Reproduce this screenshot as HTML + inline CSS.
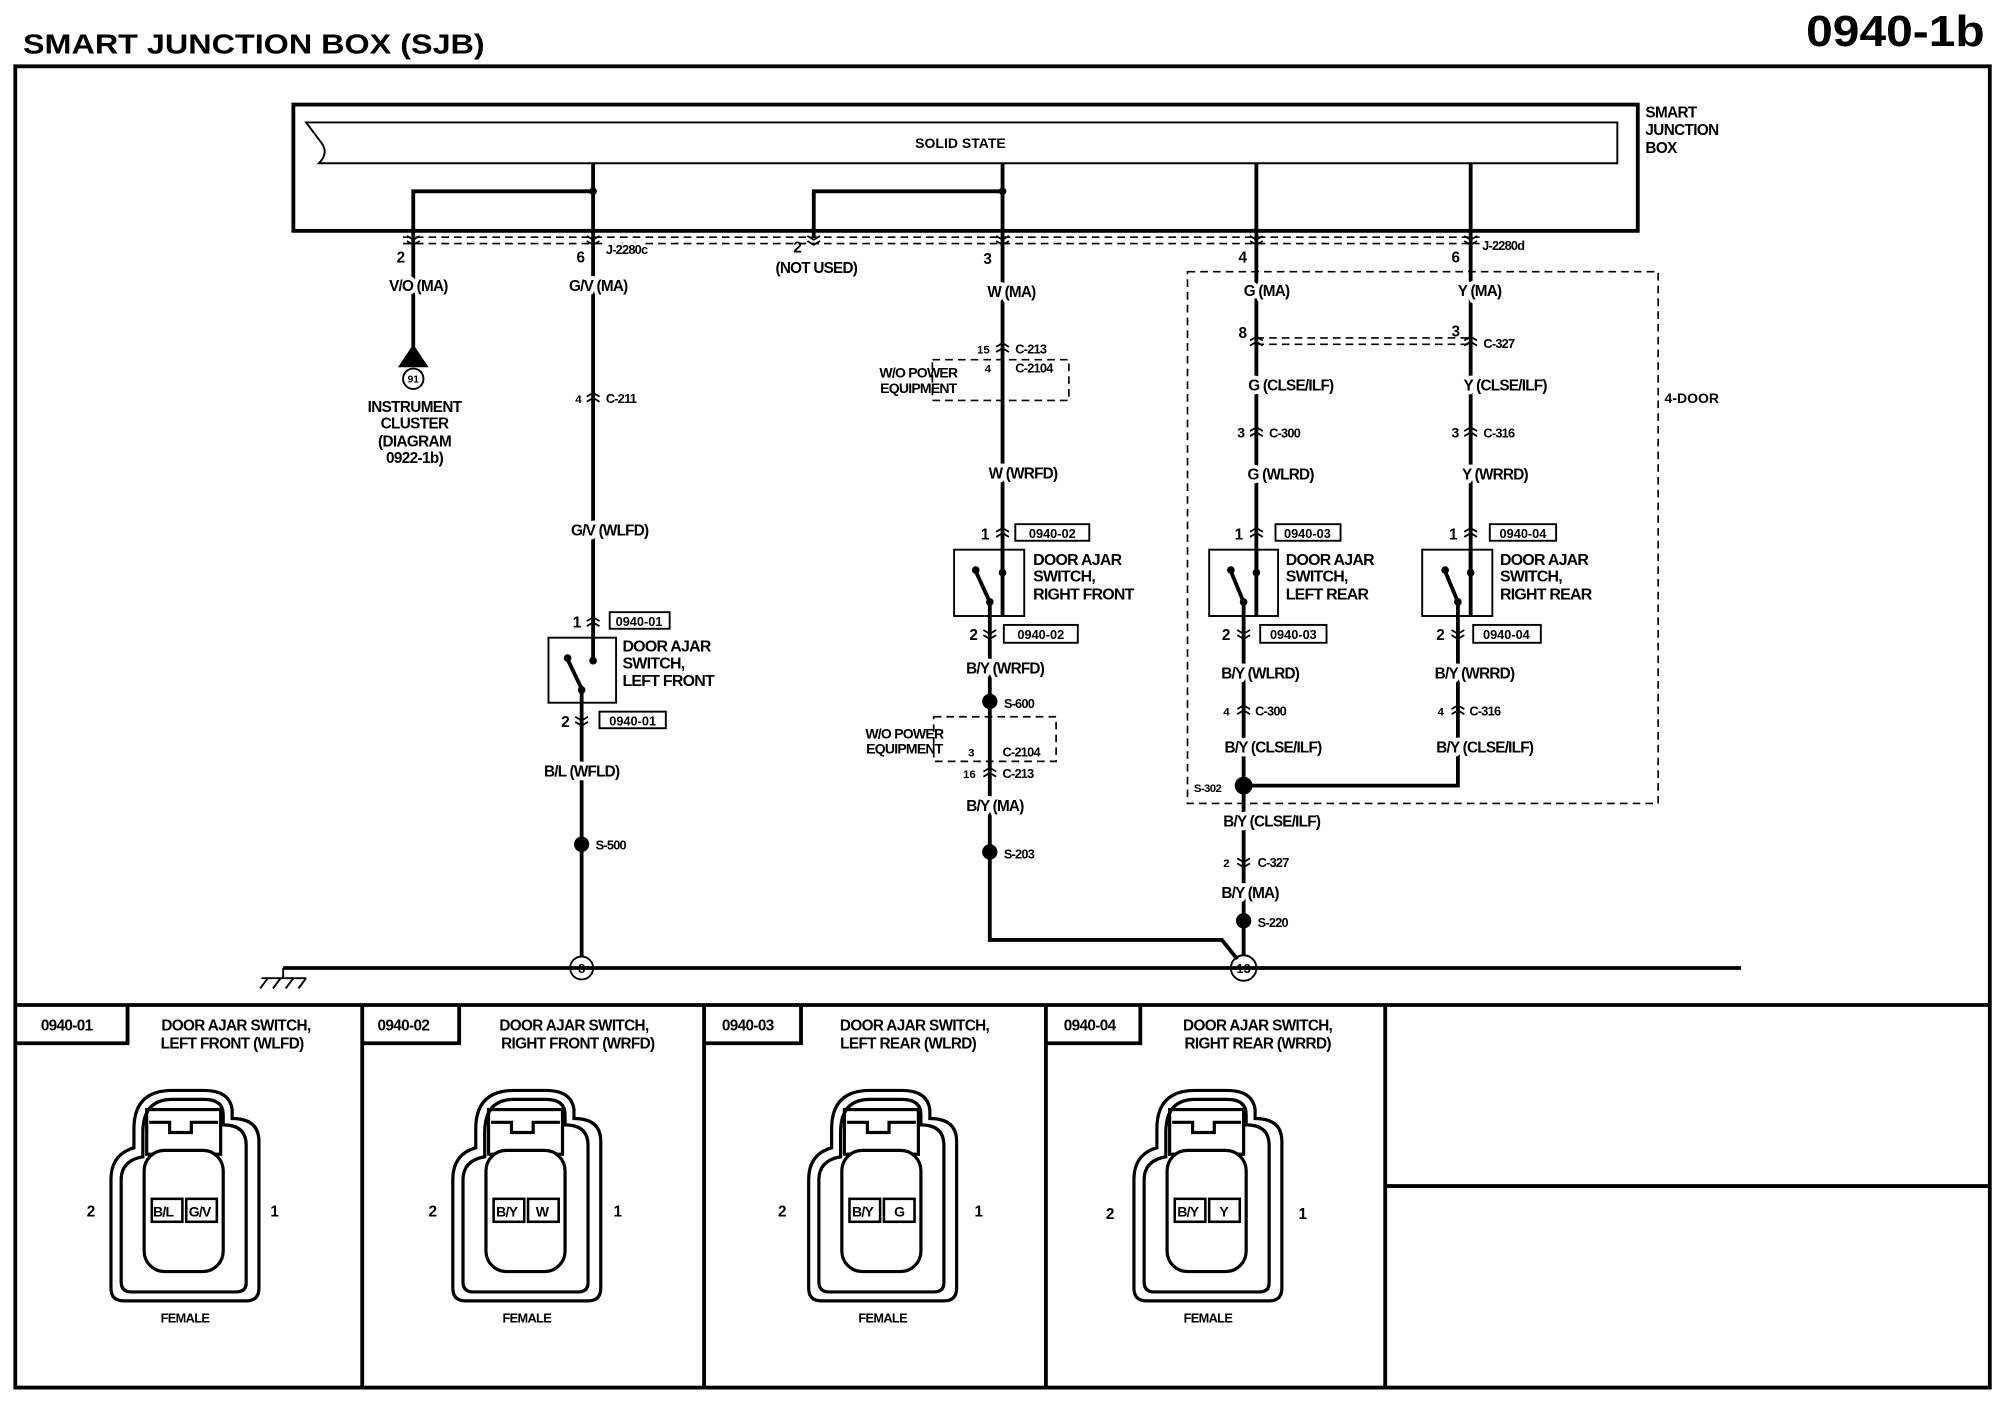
<!DOCTYPE html>
<html><head><meta charset="utf-8"><style>
html,body{margin:0;padding:0;background:#fff}
svg{display:block}
text{font-family:"Liberation Sans",Arial,sans-serif;font-weight:bold;fill:#000}
.l{font-size:12px;letter-spacing:-0.6px;stroke:#fff;stroke-width:6px;paint-order:stroke;stroke-linejoin:round}
.s{font-size:10px;letter-spacing:-0.6px;stroke:#fff;stroke-width:4px;paint-order:stroke}
.w{stroke:#000;stroke-width:3;fill:none}
.t{stroke:#000;stroke-width:1.5;fill:none}
.d{stroke:#000;stroke-width:1.3;fill:none;stroke-dasharray:6,4}
</style></head><body>
<svg width="2000" height="1408" viewBox="0 0 1568 1104" preserveAspectRatio="none" xmlns="http://www.w3.org/2000/svg">
<defs>
<path id="cu" d="M-5,-1 L0,-4 L5,-1 M-5,3 L0,0 L5,3" stroke="#000" stroke-width="1.4" fill="none"/>
<path id="cd" d="M-5,-3 L0,0 L5,-3 M-5,1 L0,4 L5,1" stroke="#000" stroke-width="1.4" fill="none"/>
<g id="conn" fill="none" stroke="#000">
<path d="M-40,-95 Q-40,-125 -10,-125 L15,-125 Q35,-125 37,-110 L37,-103 Q58,-103 58,-85 L58,30 Q58,40 48,40 L-48,40 Q-58,40 -58,30 L-58,-55 Q-58,-75 -40,-80 Z" stroke-width="2.5"/>
<path d="M-33,-92 Q-33,-118 -10,-118 L15,-118 Q30,-118 30,-106 L30,-98 Q48,-98 48,-82 L48,26 Q48,33 40,33 L-42,33 Q-50,33 -50,25 L-50,-55 Q-50,-70 -33,-73 Z" stroke-width="2.5"/>
<rect x="-30" y="-110" width="58" height="35" stroke-width="2.5"/>
<path d="M-28,-100 L-12,-100 L-12,-92 L5,-92 L5,-100 L26,-100" stroke-width="2.5"/>
<rect x="-32" y="-78" width="62" height="95" rx="16" stroke-width="2.5" fill="#fff"/>
<rect x="-26" y="-40" width="24" height="18" stroke-width="2"/>
<rect x="1" y="-40" width="24" height="18" stroke-width="2"/>
</g>
</defs>

<text x="18" y="42" style="font-size:22px" textLength="362" lengthAdjust="spacingAndGlyphs">SMART JUNCTION BOX (SJB)</text>
<text x="1416" y="36" style="font-size:34px" textLength="140" lengthAdjust="spacingAndGlyphs">0940-1b</text>
<rect x="12" y="52" width="1548" height="1036" class="w" stroke-width="2.5"/>
<line x1="12" y1="788" x2="1560" y2="788" class="w" stroke-width="2"/>
<g class="w" stroke-width="2">
<line x1="284" y1="788" x2="284" y2="1088"/><line x1="552" y1="788" x2="552" y2="1088"/>
<line x1="820" y1="788" x2="820" y2="1088"/><line x1="1086" y1="788" x2="1086" y2="1088"/>
<line x1="1086" y1="930" x2="1560" y2="930"/>
<path d="M12,818 L100,818 L100,788 M284,818 L360,818 L360,788 M552,818 L628,818 L628,788 M820,818 L894,818 L894,788"/>
</g>
<g style="font-size:12px;letter-spacing:-0.5px">
<text x="32" y="808">0940-01</text><text x="296" y="808">0940-02</text><text x="566" y="808">0940-03</text><text x="834" y="808">0940-04</text>
<text x="185" y="808" text-anchor="middle">DOOR AJAR SWITCH,</text><text x="182" y="822" text-anchor="middle">LEFT FRONT (WLFD)</text>
<text x="450" y="808" text-anchor="middle">DOOR AJAR SWITCH,</text><text x="453" y="822" text-anchor="middle">RIGHT FRONT (WRFD)</text>
<text x="717" y="808" text-anchor="middle">DOOR AJAR SWITCH,</text><text x="712" y="822" text-anchor="middle">LEFT REAR (WLRD)</text>
<text x="986" y="808" text-anchor="middle">DOOR AJAR SWITCH,</text><text x="986" y="822" text-anchor="middle">RIGHT REAR (WRRD)</text>
</g>
<use href="#conn" x="145" y="980"/><use href="#conn" x="413" y="980"/><use href="#conn" x="692" y="980"/><use href="#conn" x="947" y="980"/>
<g style="font-size:11px;letter-spacing:-0.6px">
<text x="120" y="954">B/L</text><text x="148" y="954">G/V</text>
<text x="389" y="954">B/Y</text><text x="420" y="954">W</text>
<text x="668" y="954">B/Y</text><text x="701" y="954">G</text>
<text x="923" y="954">B/Y</text><text x="956" y="954">Y</text>
</g>
<g style="font-size:12px">
<text x="68" y="954">2</text><text x="212" y="954">1</text><text x="336" y="954">2</text><text x="481" y="954">1</text>
<text x="610" y="954">2</text><text x="764" y="954">1</text><text x="867" y="956">2</text><text x="1018" y="956">1</text>
</g>
<g style="font-size:10px;letter-spacing:-0.5px" text-anchor="middle">
<text x="145" y="1037">FEMALE</text><text x="413" y="1037">FEMALE</text><text x="692" y="1037">FEMALE</text><text x="947" y="1037">FEMALE</text>
</g>

<!-- SJB -->
<rect x="230" y="82" width="1054" height="99" class="w" stroke-width="2"/>
<path d="M240,96 L1268,96 L1268,128 L250,128 Q258,120 252,112 Q246,104 240,96 Z" class="t"/>
<text x="753" y="116" text-anchor="middle" style="font-size:11px">SOLID STATE</text>
<g style="font-size:12px;letter-spacing:-0.5px"><text x="1290" y="92">SMART</text><text x="1290" y="106">JUNCTION</text><text x="1290" y="120">BOX</text></g>
<g class="w">
<path d="M465,128 L465,500"/><path d="M465,150 L324,150 L324,272"/>
<path d="M786,128 L786,483"/><path d="M786,150 L638,150 L638,186"/>
<path d="M985,128 L985,483"/><path d="M1153,128 L1153,483"/>
</g>
<path d="M316,186 L1160,186 M316,191 L1160,191 M985,265 L1153,265 M985,270 L1153,270" class="d" stroke-width="1.5"/>
<g fill="#000"><circle cx="465" cy="150" r="3"/><circle cx="786" cy="150" r="3"/></g>
<use href="#cd" x="324" y="188"/><use href="#cd" x="465" y="188"/><use href="#cd" x="638" y="188"/><use href="#cd" x="786" y="188"/><use href="#cd" x="985" y="188"/><use href="#cd" x="1153" y="188"/>
<g style="font-size:12px">
<text x="311" y="206">2</text><text x="452" y="206">6</text><text x="622" y="198">2</text><text x="771" y="207">3</text><text x="971" y="206">4</text><text x="1138" y="206">6</text>
</g>
<text x="475" y="199" class="s">J-2280c</text><text x="1162" y="196" class="s">J-2280d</text>
<text x="328" y="228" class="l" text-anchor="middle">V/O (MA)</text>
<text x="469" y="228" class="l" text-anchor="middle">G/V (MA)</text>
<text x="640" y="214" class="l" text-anchor="middle">(NOT USED)</text>
<text x="793" y="233" class="l" text-anchor="middle">W (MA)</text>
<text x="993" y="232" class="l" text-anchor="middle">G (MA)</text>
<text x="1160" y="232" class="l" text-anchor="middle">Y (MA)</text>

<!-- instrument cluster -->
<path d="M312,288 L324,270 L336,288 Z" fill="#000"/>
<circle cx="324" cy="297" r="8" class="t" fill="#fff"/><text x="324" y="300" text-anchor="middle" style="font-size:8px">91</text>
<g style="font-size:12px;letter-spacing:-0.5px" text-anchor="middle">
<text x="325" y="323">INSTRUMENT</text><text x="325" y="336">CLUSTER</text><text x="325" y="350">(DIAGRAM</text><text x="325" y="363">0922-1b)</text></g>

<!-- LF -->
<use href="#cu" x="465" y="312"/><text x="451" y="316" style="font-size:9px">4</text><text x="475" y="316" class="s">C-211</text>
<text x="478" y="420" class="l" text-anchor="middle">G/V (WLFD)</text>
<use href="#cu" x="465" y="488"/><text x="449" y="492" style="font-size:12px">1</text>
<rect x="478" y="480" width="47" height="13" class="t"/><text x="501" y="491" text-anchor="middle" style="font-size:10px">0940-01</text>
<rect x="430" y="500" width="53" height="51" class="t" stroke-width="2" fill="#fff"/>
<path d="M465,500 L465,517 M445,517 L456,540 L456,551" class="w" stroke-width="2.5"/>
<circle cx="465" cy="518" r="3"/><circle cx="445" cy="516" r="3"/><circle cx="456" cy="541" r="3"/>
<g style="font-size:12.5px;letter-spacing:-0.6px"><text x="488" y="511">DOOR AJAR</text><text x="488" y="524">SWITCH,</text><text x="488" y="538">LEFT FRONT</text></g>
<path d="M456,551 L456,750" class="w"/>
<use href="#cd" x="456" y="565"/><text x="440" y="570" style="font-size:12px">2</text>
<rect x="470" y="558" width="52" height="13" class="t"/><text x="496" y="569" text-anchor="middle" style="font-size:10px">0940-01</text>
<text x="456" y="609" class="l" text-anchor="middle">B/L (WFLD)</text>
<circle cx="456" cy="662" r="6"/><text x="467" y="666" class="s">S-500</text>

<!-- RF -->
<use href="#cu" x="786" y="273"/><text x="766" y="277" style="font-size:9px">15</text><text x="796" y="277" class="s">C-213</text>
<rect x="731" y="282" width="107" height="32" class="d" fill="none"/>
<text x="772" y="292" style="font-size:9px">4</text><text x="796" y="292" class="s">C-2104</text>
<g style="font-size:11px;letter-spacing:-0.6px" text-anchor="middle"><text x="720" y="296">W/O POWER</text><text x="720" y="308">EQUIPMENT</text></g>
<text x="802" y="375" class="l" text-anchor="middle">W (WRFD)</text>
<use href="#cu" x="786" y="418"/><text x="769" y="423" style="font-size:12px">1</text>
<rect x="796" y="411" width="58" height="13" class="t"/><text x="825" y="422" text-anchor="middle" style="font-size:10px">0940-02</text>
<rect x="748" y="431" width="55" height="52" class="t" stroke-width="2" fill="#fff"/>
<path d="M786,431 L786,448 M765,448 L776,472 L776,483" class="w" stroke-width="2.5"/>
<circle cx="786" cy="449" r="3"/><circle cx="765" cy="447" r="3"/><circle cx="776" cy="472" r="3"/>
<g style="font-size:12.5px;letter-spacing:-0.6px"><text x="810" y="443">DOOR AJAR</text><text x="810" y="456">SWITCH,</text><text x="810" y="470">RIGHT FRONT</text></g>
<path d="M776,483 L776,737 L958,737 L970,752" class="w"/>
<use href="#cd" x="776" y="497"/><text x="760" y="502" style="font-size:12px">2</text>
<rect x="787" y="490" width="58" height="14" class="t"/><text x="816" y="501" text-anchor="middle" style="font-size:10px">0940-02</text>
<text x="788" y="528" class="l" text-anchor="middle">B/Y (WRFD)</text>
<circle cx="776" cy="550" r="6"/><text x="787" y="555" class="s">S-600</text>
<rect x="732" y="562" width="96" height="35" class="d" fill="none"/>
<g style="font-size:11px;letter-spacing:-0.6px" text-anchor="middle"><text x="709" y="579">W/O POWER</text><text x="709" y="591">EQUIPMENT</text></g>
<text x="759" y="593" style="font-size:9px">3</text><text x="786" y="593" class="s">C-2104</text>
<use href="#cu" x="776" y="606"/><text x="755" y="610" style="font-size:9px">16</text><text x="786" y="610" class="s">C-213</text>
<text x="780" y="636" class="l" text-anchor="middle">B/Y (MA)</text>
<circle cx="776" cy="668" r="6"/><text x="787" y="673" class="s">S-203</text>

<!-- 4-door -->
<rect x="931" y="213" width="369" height="417" class="d"/>
<text x="1305" y="316" style="font-size:11px">4-DOOR</text>
<use href="#cu" x="985" y="268"/><use href="#cu" x="1153" y="268"/>
<text x="971" y="265" style="font-size:12px">8</text><text x="1138" y="264" style="font-size:12px">3</text><text x="1163" y="273" class="s">C-327</text>
<text x="1012" y="306" class="l" text-anchor="middle">G (CLSE/ILF)</text><text x="1180" y="306" class="l" text-anchor="middle">Y (CLSE/ILF)</text>
<use href="#cu" x="985" y="339"/><use href="#cu" x="1153" y="339"/>
<text x="970" y="343" style="font-size:11px">3</text><text x="995" y="343" class="s">C-300</text>
<text x="1138" y="343" style="font-size:11px">3</text><text x="1163" y="343" class="s">C-316</text>
<text x="1004" y="376" class="l" text-anchor="middle">G (WLRD)</text><text x="1172" y="376" class="l" text-anchor="middle">Y (WRRD)</text>
<use href="#cu" x="985" y="418"/><text x="968" y="423" style="font-size:12px">1</text>
<rect x="1000" y="411" width="51" height="13" class="t"/><text x="1025" y="422" text-anchor="middle" style="font-size:10px">0940-03</text>
<use href="#cu" x="1153" y="418"/><text x="1136" y="423" style="font-size:12px">1</text>
<rect x="1168" y="411" width="52" height="13" class="t"/><text x="1194" y="422" text-anchor="middle" style="font-size:10px">0940-04</text>
<rect x="948" y="431" width="54" height="52" class="t" stroke-width="2" fill="#fff"/>
<path d="M985,431 L985,448 M965,448 L975,472 L975,483" class="w" stroke-width="2.5"/>
<circle cx="985" cy="449" r="3"/><circle cx="965" cy="447" r="3"/><circle cx="975" cy="472" r="3"/>
<rect x="1115" y="431" width="55" height="52" class="t" stroke-width="2" fill="#fff"/>
<path d="M1153,431 L1153,448 M1133,448 L1143,472 L1143,483" class="w" stroke-width="2.5"/>
<circle cx="1153" cy="449" r="3"/><circle cx="1133" cy="447" r="3"/><circle cx="1143" cy="472" r="3"/>
<g style="font-size:12.5px;letter-spacing:-0.6px"><text x="1008" y="443">DOOR AJAR</text><text x="1008" y="456">SWITCH,</text><text x="1008" y="470">LEFT REAR</text>
<text x="1176" y="443">DOOR AJAR</text><text x="1176" y="456">SWITCH,</text><text x="1176" y="470">RIGHT REAR</text></g>
<path d="M975,483 L975,749 M1143,483 L1143,616 L975,616" class="w"/>
<use href="#cd" x="975" y="497"/><text x="958" y="502" style="font-size:12px">2</text>
<rect x="988" y="490" width="52" height="14" class="t"/><text x="1014" y="501" text-anchor="middle" style="font-size:10px">0940-03</text>
<use href="#cd" x="1143" y="497"/><text x="1126" y="502" style="font-size:12px">2</text>
<rect x="1155" y="490" width="53" height="14" class="t"/><text x="1181" y="501" text-anchor="middle" style="font-size:10px">0940-04</text>
<text x="988" y="532" class="l" text-anchor="middle">B/Y (WLRD)</text><text x="1156" y="532" class="l" text-anchor="middle">B/Y (WRRD)</text>
<use href="#cu" x="975" y="557"/><text x="959" y="561" style="font-size:9px">4</text><text x="984" y="561" class="s">C-300</text>
<use href="#cu" x="1143" y="557"/><text x="1127" y="561" style="font-size:9px">4</text><text x="1152" y="561" class="s">C-316</text>
<text x="998" y="590" class="l" text-anchor="middle">B/Y (CLSE/ILF)</text><text x="1164" y="590" class="l" text-anchor="middle">B/Y (CLSE/ILF)</text>
<circle cx="975" cy="616" r="7"/><text x="936" y="621" style="font-size:9px;letter-spacing:-0.5px">S-302</text>
<text x="997" y="648" class="l" text-anchor="middle">B/Y (CLSE/ILF)</text>
<use href="#cd" x="975" y="676"/><text x="959" y="680" style="font-size:9px">2</text><text x="986" y="680" class="s">C-327</text>
<text x="980" y="704" class="l" text-anchor="middle">B/Y (MA)</text>
<circle cx="975" cy="722" r="6"/><text x="986" y="727" class="s">S-220</text>

<!-- ground -->
<path d="M222,759 L1365,759" class="w" stroke-width="2"/>
<path d="M222,759 L222,767 M205,767 L240,767 M210,767 L204,775 M220,767 L214,775 M230,767 L224,775 M240,767 L234,775" class="t"/>
<circle cx="456" cy="759" r="9" fill="#fff" class="t" stroke-width="2"/><text x="456" y="763" text-anchor="middle" style="font-size:10px">8</text>
<circle cx="975" cy="759" r="10" fill="#fff" class="t" stroke-width="2"/><text x="975" y="763" text-anchor="middle" style="font-size:10px">13</text>
</svg>
</body></html>
